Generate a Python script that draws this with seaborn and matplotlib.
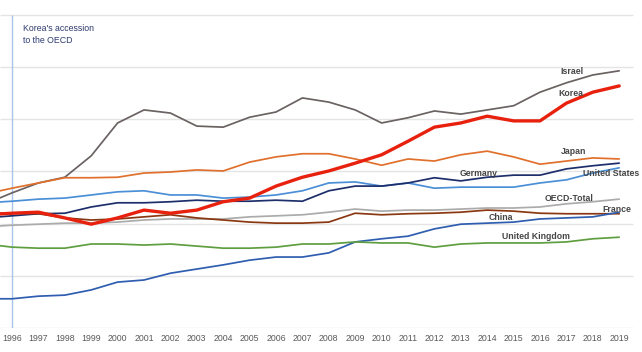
import pandas as pd
import matplotlib.pyplot as plt
import seaborn as sns

# years (1995 only feeds the stub cut off at the left edge)
years = list(range(1995, 2020))

israel = [2.38, 2.59, 2.78, 2.89, 3.30, 3.93, 4.18, 4.12, 3.87, 3.85, 4.04, 4.14, 4.41,
          4.33, 4.18, 3.93, 4.03, 4.16, 4.10, 4.18, 4.26, 4.52, 4.70, 4.85, 4.93]
korea = [2.17, 2.20, 2.22, 2.11, 1.99, 2.11, 2.26, 2.20, 2.26, 2.42, 2.49, 2.72, 2.89,
         3.01, 3.16, 3.32, 3.58, 3.85, 3.93, 4.06, 3.97, 3.97, 4.31, 4.52, 4.64]
japan = [2.57, 2.68, 2.78, 2.88, 2.88, 2.89, 2.97, 2.99, 3.03, 3.01, 3.18, 3.28, 3.34,
         3.34, 3.24, 3.12, 3.24, 3.20, 3.32, 3.39, 3.28, 3.14, 3.20, 3.26, 3.24]
united_states = [2.40, 2.43, 2.47, 2.49, 2.55, 2.61, 2.63, 2.55, 2.55, 2.49, 2.51, 2.55, 2.63,
                 2.78, 2.80, 2.72, 2.78, 2.68, 2.70, 2.70, 2.70, 2.78, 2.84, 2.97, 3.07]
germany = [2.11, 2.15, 2.19, 2.20, 2.32, 2.40, 2.40, 2.42, 2.45, 2.43, 2.43, 2.45, 2.43,
           2.63, 2.72, 2.72, 2.78, 2.88, 2.82, 2.89, 2.93, 2.93, 3.05, 3.11, 3.16]
france = [2.20, 2.20, 2.19, 2.11, 2.07, 2.09, 2.13, 2.17, 2.11, 2.07, 2.03, 2.01, 2.01,
          2.03, 2.20, 2.17, 2.19, 2.20, 2.22, 2.26, 2.24, 2.20, 2.19, 2.19, 2.19]
oecd_total = [1.94, 1.97, 1.99, 2.01, 2.01, 2.03, 2.07, 2.09, 2.09, 2.09, 2.13, 2.15, 2.17,
              2.22, 2.28, 2.24, 2.26, 2.26, 2.28, 2.30, 2.30, 2.32, 2.38, 2.42, 2.47]
china = [0.56, 0.56, 0.61, 0.63, 0.73, 0.88, 0.92, 1.05, 1.13, 1.21, 1.30, 1.36, 1.36,
         1.44, 1.65, 1.71, 1.76, 1.90, 1.99, 2.01, 2.03, 2.09, 2.11, 2.13, 2.22]
united_kingdom = [1.61, 1.55, 1.53, 1.53, 1.61, 1.61, 1.59, 1.61, 1.57, 1.53, 1.53, 1.55, 1.61,
                  1.61, 1.65, 1.63, 1.63, 1.55, 1.61, 1.63, 1.63, 1.63, 1.65, 1.71, 1.74]

series = {
    'Israel': israel,
    'Japan': japan,
    'United States': united_states,
    'Germany': germany,
    'OECD-Total': oecd_total,
    'France': france,
    'China': china,
    'United Kingdom': united_kingdom,
    'Korea': korea,
}

colors = {
    'Israel': '#6b6262',
    'Korea': '#e8210e',
    'Japan': '#e0702c',
    'United States': '#4b8fd6',
    'Germany': '#1d2f6b',
    'France': '#8a3812',
    'OECD-Total': '#ababab',
    'China': '#2f5db0',
    'United Kingdom': '#5f9e40',
}
widths = {k: 1.25 for k in colors}
widths['Korea'] = 2.4

# label anchor points (year, value)
label_pos = {
    'Israel': (2017.21, 4.91),
    'Korea': (2017.17, 4.50),
    'Japan': (2017.29, 3.39),
    'Germany': (2013.69, 2.97),
    'United States': (2018.69, 2.97),
    'OECD-Total': (2017.09, 2.49),
    'France': (2018.92, 2.28),
    'China': (2014.52, 2.11),
    'United Kingdom': (2015.85, 1.76),
}

df = pd.DataFrame([
    {'year': y, 'value': v, 'country': name}
    for name, vals in series.items() for y, v in zip(years, vals)
])

sns.set_style('white')
plt.rcParams['font.family'] = ['Liberation Sans', 'DejaVu Sans']

fig = plt.figure(figsize=(6.42, 3.52), dpi=100)
ax = fig.add_axes([0, 24 / 352, 1, 328 / 352])

x0, x1 = 1996 - 12 / 26.4, 1996 + 630 / 26.4
grid_end = 1996 + 621 / 26.4

# gridlines
ax.hlines(range(0, 7), x0, grid_end, colors='#e4e4e4', lw=1.0, zorder=0)
# Korea's accession marker
ax.vlines(1996, 0, 6, colors='#a9c4ea', lw=1.0, zorder=0)

sns.lineplot(data=df, x='year', y='value', hue='country', size='country',
             palette=colors, sizes=widths, legend=False, ax=ax, zorder=3)

for name, (lx, ly) in label_pos.items():
    ax.text(lx, ly, name, ha='center', va='center', fontsize=6.3,
            fontweight='bold', color='#454545', zorder=5)

ax.text(1996 + 11 / 26.4, 5.83, "Korea's accession\nto the OECD", ha='left', va='top',
        fontsize=6.3, color='#2d3a6e', linespacing=1.5)

ax.set_xlim(x0, x1)
ax.set_ylim(0, 328 / 52.17)
ax.set_xticks(range(1996, 2020))
ax.set_xticklabels([str(y) for y in range(1996, 2020)], fontsize=6.3, color='#595959')
ax.tick_params(axis='x', length=0, pad=4)
ax.set_yticks([])
ax.set_xlabel('')
ax.set_ylabel('')
for s in ax.spines.values():
    s.set_visible(False)

fig.savefig('out.png', dpi=100, facecolor='white')
